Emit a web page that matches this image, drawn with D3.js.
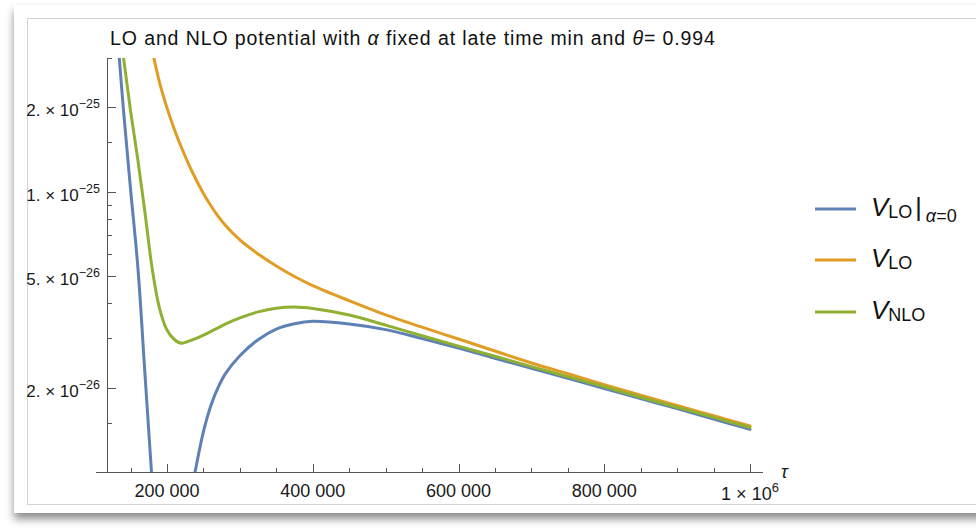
<!DOCTYPE html>
<html lang="en">
<head>
<meta charset="utf-8">
<title>LO and NLO potential</title>
<script src="https://cdn.jsdelivr.net/npm/d3@7"></script>
<style>
  body {
    margin: 0;
    background: #fff;
    font-family: "Liberation Sans", Arial, sans-serif;
  }
  .axis-line {
    stroke: #555;
    stroke-width: 1;
    fill: none;
    shape-rendering: crispEdges;
  }
  .axis .tick line {
    stroke: #555;
    shape-rendering: crispEdges;
  }
  .tick-label {
    font-size: 18px;
    fill: #1a1a1a;
  }
  .curve {
    fill: none;
    stroke-width: 3;
    stroke-linejoin: round;
    stroke-linecap: round;
  }
</style>
</head>
<body>
<script>

var w = 976,
    h = 532;

// tau grid (shared by the three series)
var tau = [120000, 130000, 140000, 150000, 160000, 170000, 180000, 190000, 200000, 210000,
           220000, 230000, 240000, 250000, 260000, 270000, 280000, 300000, 325000, 350000,
           375000, 400000, 450000, 500000, 550000, 600000, 650000, 700000, 750000, 800000,
           850000, 900000, 950000, 1000000];

// V_LO | alpha=0  (null where the value falls under the plot range)
var vLOalpha0 = [8.98e-25, 4.22e-25, 1.99e-25, 1.02e-25, 5.38e-26, 2.19e-26, 8.9e-27, null, null, null,
                 null, 7.55e-27, 1.047e-26, 1.393e-26, 1.72e-26, 2.0e-26, 2.24e-26, 2.60e-26, 2.965e-26, 3.235e-26,
                 3.38e-26, 3.448e-26, 3.373e-26, 3.221e-26, 2.992e-26, 2.767e-26, 2.547e-26, 2.344e-26, 2.158e-26, 1.986e-26,
                 1.828e-26, 1.683e-26, 1.545e-26, 1.419e-26];

// V_LO
var vLO = [null, null, null, null, null, 4.34e-25, 3.177e-25, 2.44e-25, 1.991e-25, 1.672e-25,
           1.435e-25, 1.25e-25, 1.103e-25, 9.85e-26, 8.93e-26, 8.18e-26, 7.59e-26, 6.73e-26, 5.998e-26, 5.436e-26,
           4.985e-26, 4.624e-26, 4.084e-26, 3.635e-26, 3.286e-26, 2.981e-26, 2.702e-26, 2.449e-26, 2.242e-26, 2.051e-26,
           1.879e-26, 1.726e-26, 1.587e-26, 1.459e-26];

// V_NLO
var vNLO = [8.3e-25, 5.0e-25, 3.05e-25, 1.94e-25, 1.30e-25, 8.33e-26, 5.25e-26, 3.815e-26, 3.211e-26, 2.97e-26,
            2.88e-26, 2.93e-26, 2.996e-26, 3.078e-26, 3.17e-26, 3.269e-26, 3.367e-26, 3.546e-26, 3.726e-26, 3.842e-26,
            3.88e-26, 3.833e-26, 3.631e-26, 3.342e-26, 3.062e-26, 2.812e-26, 2.588e-26, 2.377e-26, 2.188e-26, 2.014e-26,
            1.849e-26, 1.702e-26, 1.567e-26, 1.442e-26];

var seriesNames = ["LO", "LO", "NLO"];
var seriesColors = ["#5e81b5", "#e19c24", "#8fb032"];

// ticks
var xMajorTicks = [200000, 400000, 600000, 800000, 1000000];
var xTickText = [["200 000", ""], ["400 000", ""], ["600 000", ""], ["800 000", ""], ["1 \u00d7 10", "6"]];
var xMinorTicks = [150000, 250000, 300000, 350000, 450000, 500000, 550000, 650000, 700000, 750000, 850000, 900000, 950000];

var yMajorTicks = [2e-25, 1e-25, 5e-26, 2e-26];
var yTickText = [["2. \u00d7 10", "\u221225"], ["1. \u00d7 10", "\u221225"], ["5. \u00d7 10", "\u221226"], ["2. \u00d7 10", "\u221226"]];
var yMinorTicks = [3e-25, 1.5e-25, 9e-26, 8e-26, 7e-26, 6e-26, 4e-26, 3e-26, 1.5e-26];

// scales
var xScale = d3.scaleLinear()
               .domain([200000, 1000000])
               .range([167, 750]);

var yScale = d3.scaleLog()
               .domain([1e-26, 3e-25])
               .range([472, 58]);

var xAxisFrom = 103000, xAxisTo = 1018000, yAxisAt = 119000;

var svg = d3.select("body")
            .append("svg")
            .attr("width", w)
            .attr("height", h);

var defs = svg.append("defs");

var shadow = defs.append("filter")
                 .attr("id", "shadow")
                 .attr("x", "-5%").attr("y", "-5%")
                 .attr("width", "115%").attr("height", "120%");
shadow.append("feDropShadow")
      .attr("dx", 0).attr("dy", 6)
      .attr("stdDeviation", 4)
      .attr("flood-color", "#000")
      .attr("flood-opacity", 0.45);

defs.append("clipPath")
    .attr("id", "plotclip")
    .append("rect")
    .attr("x", 96).attr("y", 58)
    .attr("width", 680).attr("height", 414);

// card with shadow + inner border
svg.append("rect")
   .attr("x", 14).attr("y", 5)
   .attr("width", 990).attr("height", 508)
   .attr("fill", "#fff")
   .attr("filter", "url(#shadow)");

svg.append("rect")
   .attr("x", 27.5).attr("y", 18.5)
   .attr("width", 980).attr("height", 486)
   .attr("fill", "#fff")
   .attr("stroke", "#d4d4d4");

// title
var title = svg.append("text")
               .attr("x", 110)
               .attr("y", 45)
               .attr("font-size", "19.5px")
               .attr("letter-spacing", "0.9px")
               .attr("fill", "#111");
title.append("tspan").text("LO and NLO potential with ");
title.append("tspan").attr("font-style", "italic").text("\u03b1");
title.append("tspan").text(" fixed at late time min and ");
title.append("tspan").attr("font-style", "italic").text("\u03b8");
title.append("tspan").text("= 0.994");

var x0 = xScale(yAxisAt),
    y0 = yScale(1e-26);

// x axis ticks (pointing up, into the plot)
svg.append("g")
   .attr("class", "axis")
   .attr("transform", "translate(0," + y0 + ")")
   .call(d3.axisBottom(xScale).tickValues(xMajorTicks).tickSize(-8).tickFormat(""))
   .call(function(g) { g.select(".domain").remove(); });

svg.append("g")
   .attr("class", "axis")
   .attr("transform", "translate(0," + y0 + ")")
   .call(d3.axisBottom(xScale).tickValues(xMinorTicks).tickSize(-4.5).tickFormat(""))
   .call(function(g) { g.select(".domain").remove(); });

// y axis ticks (pointing right)
svg.append("g")
   .attr("class", "axis")
   .attr("transform", "translate(" + x0 + ",0)")
   .call(d3.axisLeft(yScale).tickValues(yMajorTicks).tickSize(-8).tickFormat(""))
   .call(function(g) { g.select(".domain").remove(); });

svg.append("g")
   .attr("class", "axis")
   .attr("transform", "translate(" + x0 + ",0)")
   .call(d3.axisLeft(yScale).tickValues(yMinorTicks).tickSize(-4.5).tickFormat(""))
   .call(function(g) { g.select(".domain").remove(); });

// axis lines
svg.append("line")
   .attr("class", "axis-line")
   .attr("x1", xScale(xAxisFrom)).attr("x2", xScale(xAxisTo))
   .attr("y1", y0).attr("y2", y0);

svg.append("line")
   .attr("class", "axis-line")
   .attr("x1", x0).attr("x2", x0)
   .attr("y1", yScale.range()[1]).attr("y2", y0);

// x tick labels
xMajorTicks.forEach(function(t, i) {
  var lab = svg.append("text")
               .attr("class", "tick-label")
               .attr("text-anchor", "middle")
               .attr("x", xScale(t))
               .attr("y", xTickText[i][1] ? y0 + 28 : y0 + 25);
  lab.append("tspan").text(xTickText[i][0]);
  if (xTickText[i][1]) {
    lab.append("tspan").attr("dy", -8).attr("font-size", "13px").text(xTickText[i][1]);
  }
});

svg.append("text")
   .attr("x", xScale(xAxisTo) + 18)
   .attr("y", y0 + 6)
   .attr("font-size", "18px")
   .attr("font-style", "italic")
   .attr("fill", "#1a1a1a")
   .text("\u03c4");

// y tick labels
yMajorTicks.forEach(function(t, i) {
  var lab = svg.append("text")
               .attr("class", "tick-label")
               .style("font-size", "17px")
               .attr("text-anchor", "end")
               .attr("x", 100)
               .attr("y", yScale(t) + 9);
  lab.append("tspan").text(yTickText[i][0]);
  lab.append("tspan").attr("dy", -8).attr("font-size", "12.5px").text(yTickText[i][1]);
});

// curves
var line = d3.line()
             .defined(function(d) { return d[1] != null; })
             .x(function(d) { return xScale(d[0]); })
             .y(function(d) { return yScale(d[1]); })
             .curve(d3.curveCatmullRom.alpha(0.5));

var allSeries = [vLOalpha0, vLO, vNLO];

var plot = svg.append("g").attr("clip-path", "url(#plotclip)");

allSeries.forEach(function(vals, i) {
  var pts = tau.map(function(t, k) { return [t, vals[k]]; });
  plot.append("path")
      .attr("class", "curve")
      .attr("stroke", seriesColors[i])
      .attr("d", line(pts));
});

// legend
var legendY = [209, 260, 312];
var legend = svg.append("g");

seriesNames.forEach(function(name, i) {
  legend.append("line")
        .attr("x1", 815).attr("x2", 856)
        .attr("y1", legendY[i]).attr("y2", legendY[i])
        .attr("stroke", seriesColors[i])
        .attr("stroke-width", 3);

  var t = legend.append("text")
                .attr("x", 871)
                .attr("y", legendY[i] + 7)
                .attr("font-size", "26px")
                .attr("fill", "#111");
  t.append("tspan").attr("font-style", "italic").text("V");
  t.append("tspan").attr("font-size", "18px").attr("dy", 2).text(name);
  if (i === 0) {
    t.append("tspan").attr("dx", 3).attr("dy", -2).attr("font-size", "25px").text("|");
    t.append("tspan").attr("dx", 4).attr("dy", 6).attr("font-size", "18px").attr("font-style", "italic").text("\u03b1");
    t.append("tspan").attr("font-size", "18px").text("=0");
  }
});

</script>
</body>
</html>
